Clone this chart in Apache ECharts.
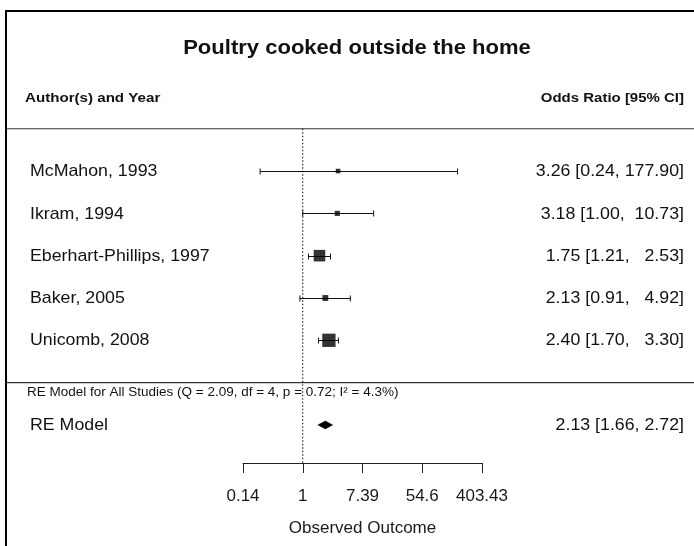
<!doctype html>
<html lang="en">
<head>
<meta charset="UTF-8" />
<title>Forest plot</title>
<script src="https://cdn.jsdelivr.net/npm/echarts@6/dist/echarts.min.js"></script>
<style>
  html, body { margin: 0; padding: 0; background: #fff; }
  #main { width: 694px; height: 546px; }
</style>
</head>
<body>
<div id="main"></div>
<script>
// study data
var studies = ['McMahon, 1993', 'Ikram, 1994', 'Eberhart-Phillips, 1997', 'Baker, 2005', 'Unicomb, 2008'];
var estimates = [3.26, 3.18, 1.75, 2.13, 2.40];
var lower = [0.24, 1.00, 1.21, 0.91, 1.70];
var upper = [177.90, 10.73, 2.53, 4.92, 3.30];
var weights = [0.5, 3.8, 39.3, 7.5, 48.8]; // % weight, guessed from square size

// random effects summary
var reLabel = 'RE Model';
var reEst = 2.13, reLower = 1.66, reUpper = 2.72;
var hetText = 'RE Model for All Studies (Q = 2.09, df = 4, p = 0.72; I\u00B2 = 4.3%)';

// axis (log scale, ticks at e^-2 .. e^6)
var tickExp = [-2, 0, 2, 4, 6];
var tickLabels = ['0.14', '1', '7.39', '54.6', '403.43'];

var FONT = '"Liberation Sans", Arial, Helvetica, sans-serif';
var chart = echarts.init(document.getElementById('main'));
var k = studies.length;
var rows = studies.map(function (s, i) { return k - i; });
var yMin = -1.9, yMax = 6;

function fmt(v) { return v.toFixed(2); }
var upW = Math.max.apply(null, upper.map(function (u) { return fmt(u).length; }));
var ciText = studies.map(function (s, i) {
    var u = fmt(upper[i]);
    while (u.length < upW) u = ' ' + u;
    return fmt(estimates[i]) + ' [' + fmt(lower[i]) + ', ' + u + ']';
});
var reText = fmt(reEst) + ' [' + fmt(reLower) + ', ' + fmt(reUpper) + ']';

function errorBars(params, api) {
    var a = api.coord([api.value(0), api.value(2)]);
    var b = api.coord([api.value(1), api.value(2)]);
    var y = Math.round(a[1]) + 0.5, h = 3;
    var st = { stroke: '#111', lineWidth: 1 };
    return {
        type: 'group',
        children: [
            { type: 'line', shape: { x1: a[0], y1: y, x2: b[0], y2: y }, style: st },
            { type: 'line', shape: { x1: a[0], y1: y - h, x2: a[0], y2: y + h }, style: st },
            { type: 'line', shape: { x1: b[0], y1: y - h, x2: b[0], y2: y + h }, style: st }
        ]
    };
}

function diamond(params, api) {
    var lo = api.coord([api.value(0), api.value(3)]);
    var mid = api.coord([api.value(1), api.value(3)]);
    var hi = api.coord([api.value(2), api.value(3)]);
    var h = 4;
    return {
        type: 'polygon',
        shape: { points: [[lo[0], lo[1]], [mid[0], mid[1] - h], [hi[0], hi[1]], [mid[0], mid[1] + h]] },
        style: { fill: '#000', stroke: '#000', lineWidth: 0.5 }
    };
}

var option = {
    animation: false,
    grid: { left: 243, right: 212, top: 128.75, bottom: 83 },
    xAxis: {
        type: 'value', min: -2, max: 6, interval: 2,
        axisLine: { onZero: false, lineStyle: { color: '#222', width: 1 } },
        axisTick: { length: 10, lineStyle: { color: '#222' } },
        splitLine: { show: false },
        axisLabel: {
            fontSize: 17, color: '#1a1a1a', margin: 25, fontFamily: FONT,
            formatter: function (v) { return tickLabels[tickExp.indexOf(v)]; }
        },
        name: 'Observed Outcome', nameLocation: 'middle', nameGap: 57,
        nameTextStyle: { fontSize: 17, color: '#1a1a1a', fontFamily: FONT }
    },
    yAxis: { type: 'value', min: yMin, max: yMax, show: false },
    series: [
        {
            // reference line at OR = 1
            type: 'line', symbol: 'none', silent: true,
            data: [[Math.log(1), yMax], [Math.log(1), yMin]],
            lineStyle: { color: '#000', width: 1, type: [1.5, 2] }
        },
        {
            type: 'custom', renderItem: errorBars, silent: true,
            data: rows.map(function (r, i) { return [Math.log(lower[i]), Math.log(upper[i]), r]; })
        },
        {
            type: 'scatter', symbol: 'rect', silent: true,
            data: rows.map(function (r, i) { return [Math.log(estimates[i]), r, weights[i]]; }),
            symbolSize: function (d) { return 4.5 + d[2] * 0.18; },
            itemStyle: { color: '#000' }
        },
        {
            type: 'custom', renderItem: diamond, silent: true,
            data: [[Math.log(reLower), Math.log(reEst), Math.log(reUpper), -1]]
        }
    ]
};
chart.setOption(option);

// text columns and frame, placed on the same row scale
function py(r) { return chart.convertToPixel({ yAxisIndex: 0 }, r); }
function txt(x, y, s, size, weight, align, sx) {
    return {
        type: 'text', x: x, y: y, scaleX: sx || 1, silent: true,
        style: { text: s, fontSize: size, fontWeight: weight || 'normal', fontFamily: FONT, fill: '#111', align: align || 'left', verticalAlign: 'middle' }
    };
}
var g = [
    { type: 'rect', shape: { x: 6, y: 11, width: 720, height: 560 }, style: { fill: null, stroke: '#000', lineWidth: 2 }, silent: true },
    { type: 'line', shape: { x1: 6, y1: py(6), x2: 694, y2: py(6) }, style: { stroke: '#333', lineWidth: 1.2 }, silent: true },
    { type: 'line', shape: { x1: 6, y1: py(0), x2: 694, y2: py(0) }, style: { stroke: '#333', lineWidth: 1.2 }, silent: true },
    txt(357, 49, 'Poultry cooked outside the home', 19.5, 'bold', 'center', 1.13),
    txt(25, 98, 'Author(s) and Year', 13.5, 'bold', 'left', 1.12),
    txt(684, 98, 'Odds Ratio [95% CI]', 13.5, 'bold', 'right', 1.11),
    txt(27, py(0) + 10, hetText, 12.5, 'normal', 'left', 1.08),
    txt(30, py(-1) + 0.5, reLabel, 17, 'normal', 'left', 1.045),
    txt(684, py(-1) + 0.5, reText, 17, 'normal', 'right', 1.045)
];
rows.forEach(function (r, i) {
    g.push(txt(30, py(r) + 0.5, studies[i], 17, 'normal', 'left', 1.045));
    g.push(txt(684, py(r) + 0.5, ciText[i], 17, 'normal', 'right', 1.045));
});
chart.setOption({ graphic: g });
</script>
</body>
</html>
